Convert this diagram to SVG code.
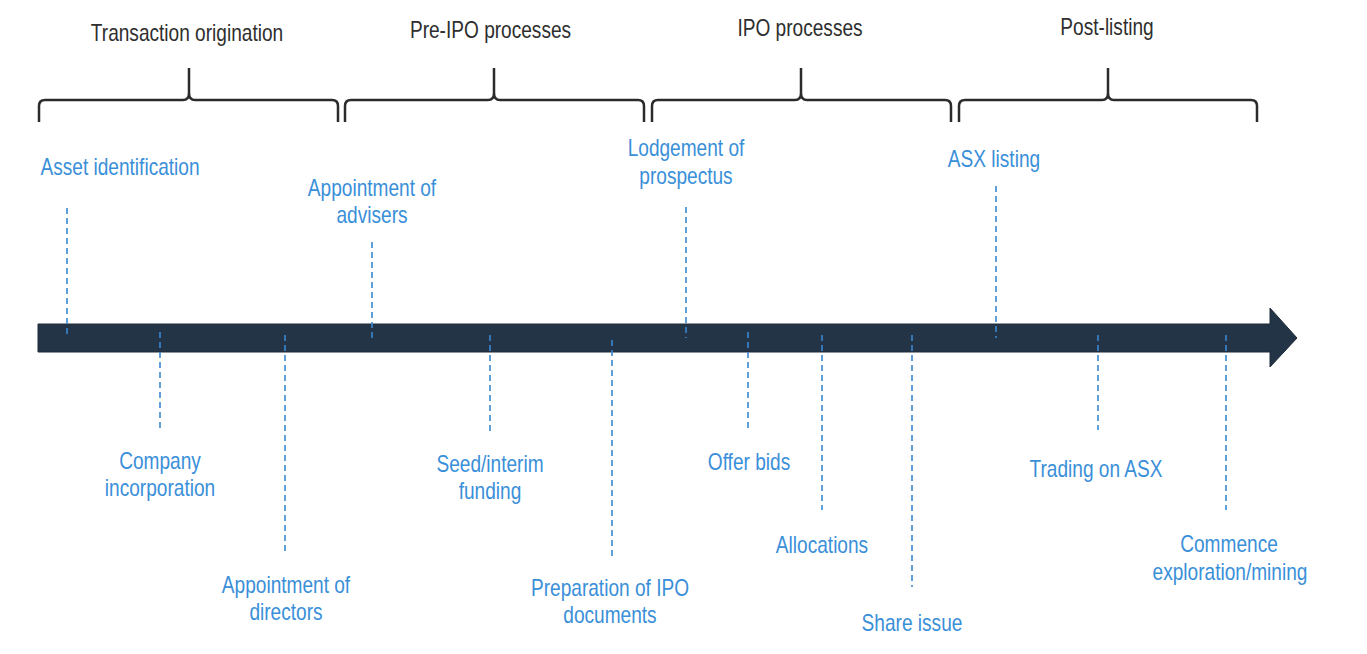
<svg xmlns="http://www.w3.org/2000/svg" width="1367" height="654" viewBox="0 0 1367 654">
<style>
.hdr{font-family:"Liberation Sans",Arial,sans-serif;font-size:23px;fill:#2e2e2e;text-anchor:middle}
.lbl{font-family:"Liberation Sans",Arial,sans-serif;font-size:23px;fill:#3a8fd9;text-anchor:middle}
.brace{fill:none;stroke:#2b2b2b;stroke-width:2.5;stroke-linejoin:round}
.dash{stroke:#3a88d0;stroke-width:1.6;stroke-dasharray:6 4;fill:none}
</style>
<rect width="1367" height="654" fill="#ffffff"/>
<g id="phases">
<g id="phase-transaction">
<path class="brace" d="M39,122 V106 Q39,100 45,100 H183 Q189,100 189,93 V68 M189,93 Q189,100 195,100 H332 Q338,100 338,106 V122"/>
<text class="hdr" transform="translate(187,41) scale(0.83,1)">Transaction origination</text>
</g>
<g id="phase-preipo">
<path class="brace" d="M345,122 V106 Q345,100 351,100 H488 Q494,100 494,93 V68 M494,93 Q494,100 500,100 H638 Q644,100 644,106 V122"/>
<text class="hdr" transform="translate(490.5,38) scale(0.83,1)">Pre-IPO processes</text>
</g>
<g id="phase-ipo">
<path class="brace" d="M652,122 V106 Q652,100 658,100 H795 Q801,100 801,93 V68 M801,93 Q801,100 807,100 H945 Q951,100 951,106 V122"/>
<text class="hdr" transform="translate(800,36) scale(0.83,1)">IPO processes</text>
</g>
<g id="phase-post">
<path class="brace" d="M959,122 V106 Q959,100 965,100 H1102 Q1108,100 1108,93 V68 M1108,93 Q1108,100 1114,100 H1251 Q1257,100 1257,106 V122"/>
<text class="hdr" transform="translate(1107,35) scale(0.83,1)">Post-listing</text>
</g>
</g>
<g id="timeline">
<path d="M38,324 H1270 V308 L1297,338 L1270,367 V352 H38 Z" fill="#243447" stroke="#1e2b3a" stroke-width="1"/>
</g>
<g id="connectors">
<line class="dash" x1="67" y1="208" x2="67" y2="338"/>
<line class="dash" x1="160" y1="332" x2="160" y2="428"/>
<line class="dash" x1="285" y1="335" x2="285" y2="555"/>
<line class="dash" x1="372" y1="242" x2="372" y2="338"/>
<line class="dash" x1="490" y1="335" x2="490" y2="432"/>
<line class="dash" x1="612" y1="340" x2="612" y2="558"/>
<line class="dash" x1="686" y1="207" x2="686" y2="338"/>
<line class="dash" x1="748" y1="332" x2="748" y2="428"/>
<line class="dash" x1="822" y1="335" x2="822" y2="510"/>
<line class="dash" x1="912" y1="335" x2="912" y2="587"/>
<line class="dash" x1="996" y1="186" x2="996" y2="338"/>
<line class="dash" x1="1098" y1="335" x2="1098" y2="430"/>
<line class="dash" x1="1226" y1="335" x2="1226" y2="510"/>
</g>
<g id="events">
<g id="ev-asset"><text class="lbl" transform="translate(120,175) scale(0.83,1)">Asset identification</text></g>
<g id="ev-company"><text class="lbl" transform="translate(160,469) scale(0.83,1)">Company</text><text class="lbl" transform="translate(160,496) scale(0.83,1)">incorporation</text></g>
<g id="ev-directors"><text class="lbl" transform="translate(286,593) scale(0.83,1)">Appointment of</text><text class="lbl" transform="translate(286,620) scale(0.83,1)">directors</text></g>
<g id="ev-advisers"><text class="lbl" transform="translate(372,196) scale(0.83,1)">Appointment of</text><text class="lbl" transform="translate(372,223) scale(0.83,1)">advisers</text></g>
<g id="ev-seed"><text class="lbl" transform="translate(490,472) scale(0.83,1)">Seed/interim</text><text class="lbl" transform="translate(490,499) scale(0.83,1)">funding</text></g>
<g id="ev-prep"><text class="lbl" transform="translate(610,596) scale(0.83,1)">Preparation of IPO</text><text class="lbl" transform="translate(610,623) scale(0.83,1)">documents</text></g>
<g id="ev-lodge"><text class="lbl" transform="translate(686,156) scale(0.83,1)">Lodgement of</text><text class="lbl" transform="translate(686,184) scale(0.83,1)">prospectus</text></g>
<g id="ev-offer"><text class="lbl" transform="translate(749,470) scale(0.83,1)">Offer bids</text></g>
<g id="ev-alloc"><text class="lbl" transform="translate(822,553) scale(0.83,1)">Allocations</text></g>
<g id="ev-share"><text class="lbl" transform="translate(912,631) scale(0.83,1)">Share issue</text></g>
<g id="ev-asx"><text class="lbl" transform="translate(994,167) scale(0.83,1)">ASX listing</text></g>
<g id="ev-trading"><text class="lbl" transform="translate(1096,477) scale(0.83,1)">Trading on ASX</text></g>
<g id="ev-commence"><text class="lbl" transform="translate(1229,552) scale(0.83,1)">Commence</text><text class="lbl" transform="translate(1230,580) scale(0.83,1)">exploration/mining</text></g>
</g>
</svg>
